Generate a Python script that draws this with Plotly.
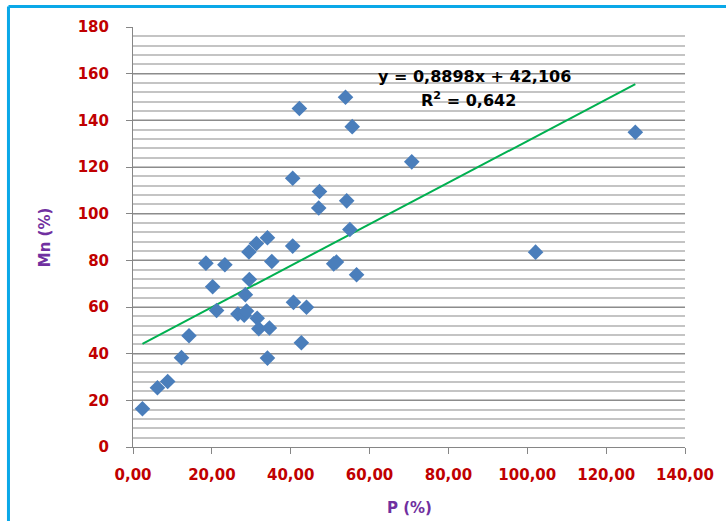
import plotly.graph_objects as go

# P (%) and Mn (%) measurements
p_values = [
    2.4, 6.2, 8.8, 12.3, 14.2, 18.5, 20.2, 21.2, 23.3, 26.6, 28.2, 28.8,
    28.5, 29.5, 29.4, 31.3, 31.5, 31.9, 34.1, 34.6, 35.2, 34.1, 40.5, 40.5,
    40.7, 42.2, 42.7, 44.0, 47.3, 47.1, 50.9, 51.6, 53.9, 54.2, 55.6, 55.0,
    56.7, 70.7, 102.1, 127.4,
]
mn_values = [
    16.4, 25.4, 28.1, 38.3, 47.7, 78.8, 68.7, 58.5, 78.1, 57.0, 56.5, 58.3,
    65.3, 71.8, 83.6, 87.2, 55.2, 50.7, 89.7, 51.0, 79.5, 38.1, 115.2, 86.1,
    62.0, 145.1, 44.7, 59.9, 109.5, 102.4, 78.5, 79.3, 149.9, 105.5, 137.3, 93.2,
    73.8, 122.2, 83.5, 134.9,
]

# Linear trend reported on the chart
slope = 0.8898
intercept = 42.106
r_squared = "0,642"

x_ticks = [0, 20, 40, 60, 80, 100, 120, 140]
y_ticks = [0, 20, 40, 60, 80, 100, 120, 140, 160, 180]

trend_x = [min(p_values), max(p_values)]
trend_y = [slope * x + intercept for x in trend_x]

fig = go.Figure()
fig.add_trace(go.Scatter(
    x=trend_x, y=trend_y, mode="lines",
    line=dict(color="#00B050", width=2), hoverinfo="skip", showlegend=False,
))
fig.add_trace(go.Scatter(
    x=p_values, y=mn_values, mode="markers",
    marker=dict(symbol="diamond", size=12, color="#4A7EBB", line=dict(width=0)),
    showlegend=False,
))

tick_font = dict(family="DejaVu Sans", size=15, color="#C00000", weight="bold")
title_font = dict(family="DejaVu Sans", size=15, color="#7030A0", weight="bold")
eq_font = dict(family="DejaVu Sans", size=16, color="#000000", weight="bold")

fig.update_layout(
    width=726, height=521,
    margin=dict(l=133, r=39, t=27, b=74),
    paper_bgcolor="white", plot_bgcolor="white",
    separators=", ",
    font=dict(family="DejaVu Sans", size=15, weight="bold"),
    xaxis=dict(
        range=[0, 140], tickvals=x_ticks, tickformat=".2f",
        showgrid=False, zeroline=False,
        showline=True, linecolor="#868686", linewidth=1,
        ticks="outside", ticklen=6, tickcolor="#868686",
        tickfont=tick_font, ticklabelstandoff=8,
    ),
    yaxis=dict(
        range=[0, 180], tickvals=y_ticks, tickformat="d",
        showgrid=True, gridcolor="#8C8C8C", gridwidth=1,
        minor=dict(dtick=4, showgrid=True, gridcolor="#C4C4C4", gridwidth=1.5),
        zeroline=False,
        showline=True, linecolor="#868686", linewidth=1,
        ticks="outside", ticklen=6, tickcolor="#868686",
        tickfont=tick_font, ticklabelstandoff=14,
    ),
    annotations=[
        dict(text="y = 0,8898x + 42,106", x=86.5, y=158.8, xref="x", yref="y",
             xanchor="center", yanchor="middle", showarrow=False, font=eq_font),
        dict(text="R<sup>2</sup> = " + r_squared, x=85.2, y=149.0,
             xref="x", yref="y", xanchor="center", yanchor="middle",
             showarrow=False, font=eq_font),
        dict(text="P (%)", x=0.5, y=-0.146, xref="paper", yref="paper",
             xanchor="center", yanchor="middle", showarrow=False, font=title_font),
        dict(text="Mn (%)", x=-0.159, y=0.5, xref="paper", yref="paper",
             xanchor="center", yanchor="middle", textangle=-90,
             showarrow=False, font=title_font),
    ],
    shapes=[
        dict(type="line", xref="paper", yref="paper", x0=-0.2256, x1=-0.2256,
             y0=-0.3, y1=1.049, line=dict(color="#0AA8E8", width=3)),
        dict(type="line", xref="paper", yref="paper", x0=-0.2256, x1=1.2,
             y0=1.049, y1=1.049, line=dict(color="#0AA8E8", width=3)),
    ],
)

fig.write_html("out.html")
